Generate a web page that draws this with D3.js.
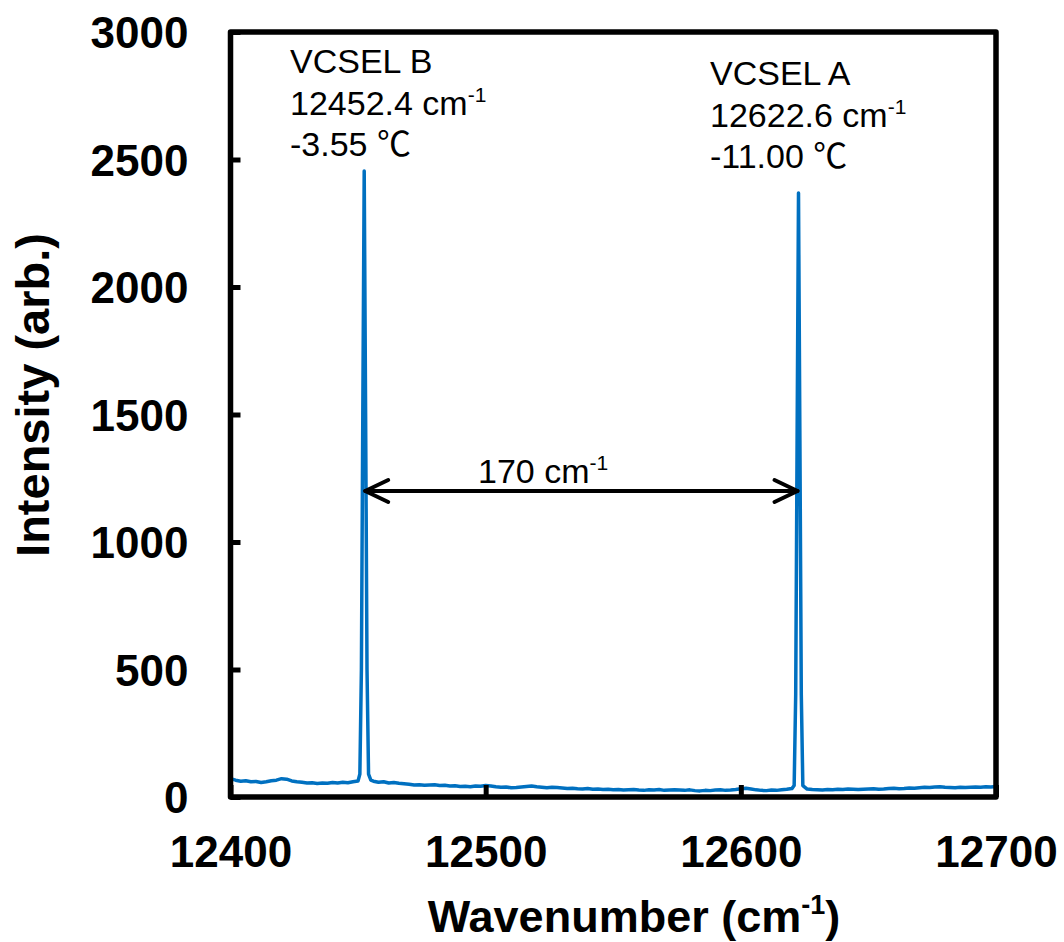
<!DOCTYPE html>
<html>
<head>
<meta charset="utf-8">
<script src="https://cdn.jsdelivr.net/npm/d3@7"></script>
<style>
  html, body { margin: 0; padding: 0; background: #fff; }
  svg { display: block; }
</style>
</head>
<body>
<svg id="chart" width="1064" height="942"></svg>
<script>
// Spectrum of two VCSELs: [wavenumber (cm-1), intensity (arb.)]
const baselineLow = [
  [12400, 72], [12402, 66], [12404, 62], [12406, 64], [12408, 60], [12410, 61], [12412, 57], [12414, 60], [12416, 64], [12418, 66],
  [12420, 72], [12422, 70], [12424, 63], [12426, 60], [12428, 58], [12430, 55], [12432, 56], [12434, 53], [12436, 55], [12438, 54],
  [12440, 57], [12442, 55], [12444, 58], [12446, 56], [12448, 60], [12450, 63]
];
const peakB = [
  [12450.7, 90], [12451.3, 500], [12451.85, 1500], [12452.4, 2455], [12452.95, 1500], [12453.5, 500], [12454.1, 90]
];
const baselineMid = [
  [12455, 66], [12456, 62], [12458, 58], [12460, 60], [12462, 55], [12464, 57], [12466, 54], [12468, 52], [12470, 50], [12472, 47], [12474, 48],
  [12476, 46], [12478, 47], [12480, 48], [12482, 45], [12484, 46], [12486, 43], [12488, 44], [12490, 41], [12492, 42], [12494, 40],
  [12496, 43], [12498, 42], [12500, 45], [12502, 43], [12504, 40], [12506, 38], [12508, 39], [12510, 36], [12512, 37], [12514, 39],
  [12516, 41], [12518, 43], [12520, 40], [12522, 38], [12524, 36], [12526, 38], [12528, 37], [12530, 35], [12532, 33], [12534, 34],
  [12536, 32], [12538, 31], [12540, 33], [12542, 30], [12544, 31], [12546, 29], [12548, 30], [12550, 28], [12552, 29], [12554, 27],
  [12556, 28], [12558, 29], [12560, 27], [12562, 26], [12564, 28], [12566, 27], [12568, 29], [12570, 26], [12572, 27], [12574, 28],
  [12576, 27], [12578, 26], [12580, 28], [12582, 25], [12584, 24], [12586, 26], [12588, 25], [12590, 27], [12592, 28], [12594, 26],
  [12596, 27], [12598, 29], [12600, 32], [12602, 34], [12604, 31], [12606, 28], [12608, 26], [12610, 25], [12612, 27], [12614, 26],
  [12616, 28], [12618, 30], [12620, 33]
];
const peakA = [
  [12620.9, 45], [12621.5, 400], [12622.05, 1400], [12622.6, 2369], [12623.15, 1400], [12623.7, 400], [12624.3, 45]
];
const baselineHigh = [
  [12626, 31], [12628, 29], [12630, 28], [12632, 27], [12634, 29], [12636, 28], [12638, 30], [12640, 29], [12642, 31], [12644, 30],
  [12646, 29], [12648, 30], [12650, 31], [12652, 32], [12654, 30], [12656, 31], [12658, 33], [12660, 34], [12662, 32], [12664, 33],
  [12666, 35], [12668, 34], [12670, 36], [12672, 38], [12674, 37], [12676, 39], [12678, 40], [12680, 38], [12682, 37], [12684, 36],
  [12686, 38], [12688, 37], [12690, 38], [12692, 39], [12694, 38], [12696, 40], [12698, 39], [12700, 41]
];

const xTicks = [12400, 12500, 12600, 12700];
const yTicks = [0, 500, 1000, 1500, 2000, 2500, 3000];

// Peak annotations
const peakLabels = [
  { lines: ["VCSEL B", "12452.4 cm", "-3.55 ℃"], sup: [null, "-1", null] },
  { lines: ["VCSEL A", "12622.6 cm", "-11.00 ℃"], sup: [null, "-1", null] }
];
const separation = { from: 12452.4, to: 12622.6, level: 1200, text: "170 cm", sup: "-1" };

const spectrum = [...baselineLow, ...peakB, ...baselineMid, ...peakA, ...baselineHigh];

const svg = d3.select("#chart");
const plotLeft = 230.5, plotRight = 996, plotTop = 32, plotBottom = 797;

const x = d3.scaleLinear().domain([12400, 12700]).range([plotLeft, plotRight]);
const y = d3.scaleLinear().domain([0, 3000]).range([plotBottom, plotTop]);

const tickFont = "'Liberation Sans', Arial, sans-serif";

// Spectrum trace
svg.append("path")
  .datum(spectrum)
  .attr("fill", "none")
  .attr("stroke", "#0070C0")
  .attr("stroke-width", 3.5)
  .attr("stroke-linejoin", "round")
  .attr("d", d3.line().x(d => x(d[0])).y(d => y(d[1])));

// Axes with inward ticks
const xAxis = svg.append("g")
  .attr("transform", `translate(0,${plotBottom})`)
  .call(d3.axisBottom(x).tickValues(xTicks).tickSizeInner(-12).tickSizeOuter(0).tickFormat(d3.format("d")));
xAxis.select(".domain").remove();
xAxis.selectAll(".tick line").attr("stroke", "#000").attr("stroke-width", 5);
xAxis.selectAll(".tick text")
  .attr("y", 70).attr("dy", 0)
  .attr("fill", "#000")
  .style("font-family", tickFont).style("font-weight", "bold").style("font-size", "44px");

const yAxis = svg.append("g")
  .attr("transform", `translate(${plotLeft},0)`)
  .call(d3.axisLeft(y).tickValues(yTicks).tickSizeInner(-10).tickSizeOuter(0).tickFormat(d3.format("d")));
yAxis.select(".domain").remove();
yAxis.selectAll(".tick line").attr("stroke", "#000").attr("stroke-width", 5);
yAxis.selectAll(".tick text")
  .attr("x", -42).attr("dy", "0.36em")
  .attr("fill", "#000")
  .style("font-family", tickFont).style("font-weight", "bold").style("font-size", "44px");

// Plot frame
svg.append("rect")
  .attr("x", plotLeft).attr("y", plotTop)
  .attr("width", plotRight - plotLeft).attr("height", plotBottom - plotTop)
  .attr("fill", "none").attr("stroke", "#000").attr("stroke-width", 5.5)
  .attr("stroke-linejoin", "round");

// Axis titles
const xTitle = svg.append("text")
  .attr("x", 634).attr("y", 932)
  .attr("text-anchor", "middle")
  .style("font-family", tickFont).style("font-weight", "bold").style("font-size", "45px");
xTitle.append("tspan").text("Wavenumber (cm");
xTitle.append("tspan").text("-1").attr("dy", -18).style("font-size", "27px");
xTitle.append("tspan").text(")").attr("dy", 18);

svg.append("text")
  .attr("transform", "translate(49,395) rotate(-90)")
  .attr("text-anchor", "middle")
  .style("font-family", tickFont).style("font-weight", "bold").style("font-size", "47px")
  .text("Intensity (arb.)");

// Peak annotations
const annoFont = "'Liberation Sans', Arial, 'Noto Sans CJK JP', sans-serif";
const annoPos = [{ x: 290, y: 73 }, { x: 710, y: 85 }];
peakLabels.forEach((lab, i) => {
  lab.lines.forEach((line, j) => {
    const t = svg.append("text")
      .attr("x", annoPos[i].x).attr("y", annoPos[i].y + j * 41.5)
      .style("font-family", annoFont).style("font-size", "34px").attr("fill", "#000");
    t.append("tspan").text(line);
    if (lab.sup[j]) t.append("tspan").text(lab.sup[j]).attr("dy", -13).style("font-size", "21px");
  });
});

// Separation arrow between the two peaks
const ay = y(separation.level);
const x1 = x(separation.from) + 1, x2 = x(separation.to) - 1;
const arrow = svg.append("g").attr("stroke", "#000").attr("stroke-width", 4)
  .attr("fill", "none").attr("stroke-linecap", "round").attr("stroke-linejoin", "round");
arrow.append("line").attr("x1", x1).attr("x2", x2).attr("y1", ay).attr("y2", ay);
arrow.append("path").attr("d", `M${x1 + 23},${ay - 11} L${x1},${ay} L${x1 + 23},${ay + 11}`);
arrow.append("path").attr("d", `M${x2 - 23},${ay - 11} L${x2},${ay} L${x2 - 23},${ay + 11}`);

const sepText = svg.append("text")
  .attr("x", 478).attr("y", ay - 8)
  .style("font-family", annoFont).style("font-size", "34px").attr("fill", "#000");
sepText.append("tspan").text(separation.text);
sepText.append("tspan").text(separation.sup).attr("dy", -13).style("font-size", "21px");
</script>
</body>
</html>
